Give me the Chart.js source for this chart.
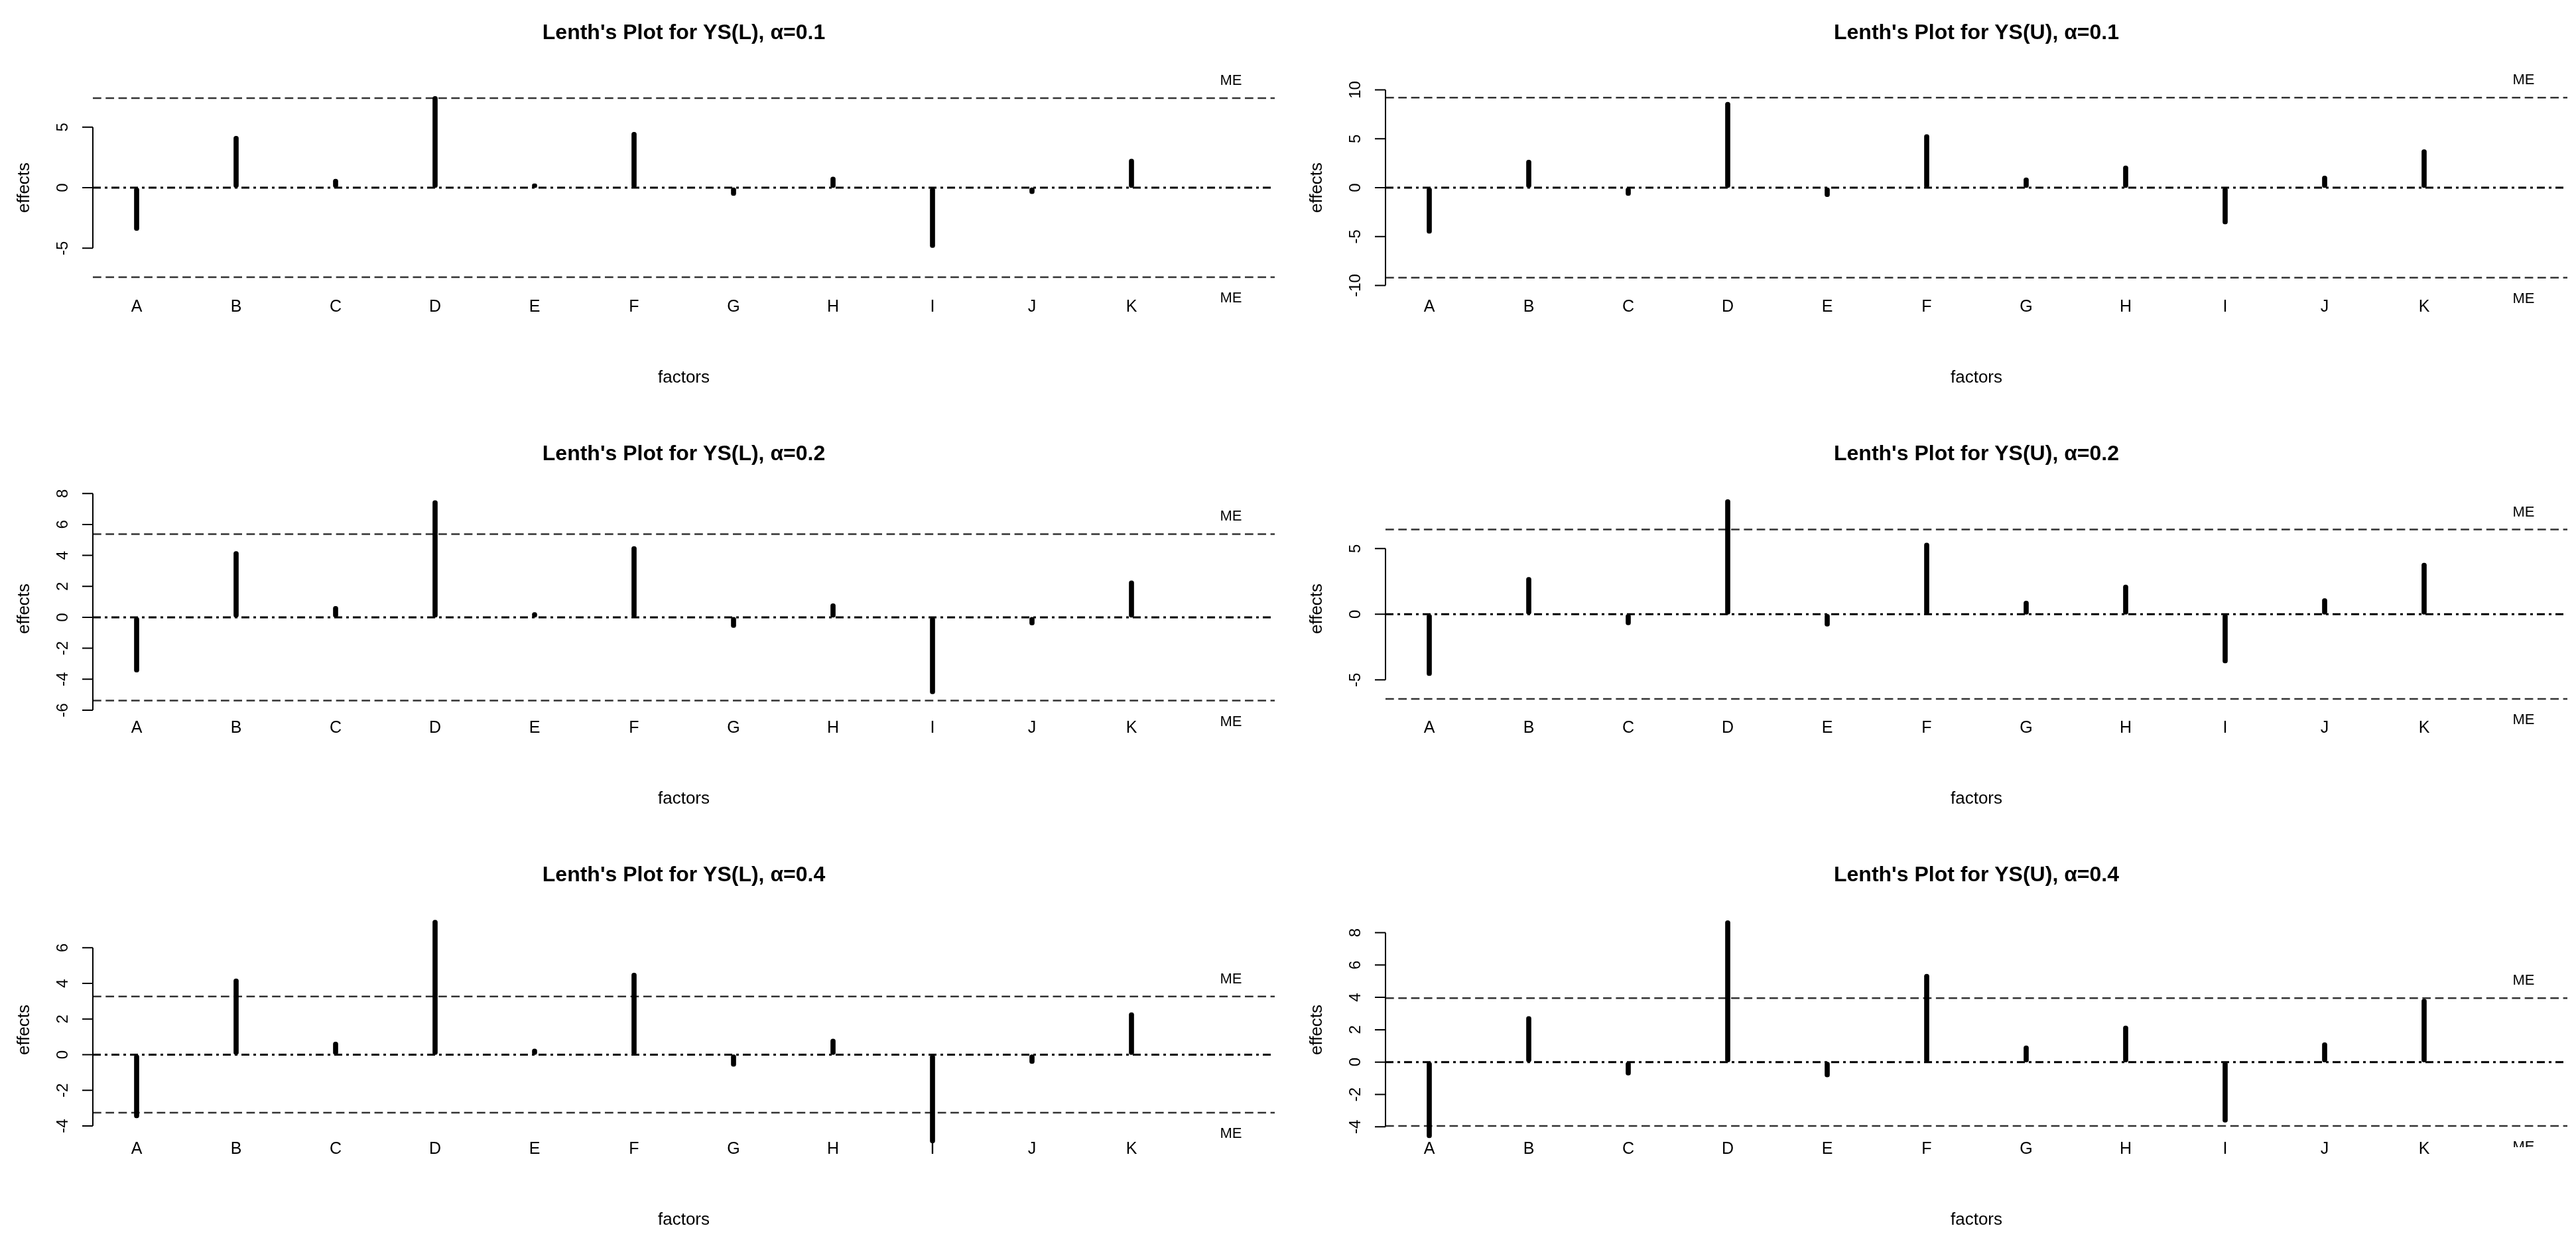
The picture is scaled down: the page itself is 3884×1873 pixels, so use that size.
<!DOCTYPE html>
<html>
<head>
<meta charset="utf-8">
<title>Lenth's Plots</title>
<script src="https://cdn.jsdelivr.net/npm/chart.js@4.4.1/dist/chart.umd.min.js"></script>
<style>
    html, body { margin: 0; padding: 0; background: #fff; overflow: hidden; }
    #wrap { position: relative; width: 3884px; height: 1873px; }
    #wrap canvas { position: absolute; }
</style>
</head>
<body>
<div id="wrap"></div>
<script>
"use strict";

// factors and effects (same effects in every alpha panel)
const factors = ['A', 'B', 'C', 'D', 'E', 'F', 'G', 'H', 'I', 'J', 'K'];
const effectsL = [-3.55, 4.26, 0.71, 7.55, 0.32, 4.58, -0.66, 0.88, -4.95, -0.50, 2.36];
const effectsU = [-4.68, 2.82, -0.81, 8.74, -0.92, 5.43, 1.01, 2.24, -3.72, 1.20, 3.90];

// one entry per row
const alphas = ['0.1', '0.2', '0.4'];
const meL = [7.40, 5.38, 3.26];
const meU = [9.20, 6.45, 3.95];

// y axis range and ticks
const yMinL = [-9.7, -7.03, -5.19];
const yMaxL = [9.7, 8.14, 7.98];
const yMinU = [-12.0, -8.52, -5.26];
const yMaxU = [12.0, 9.36, 9.25];
const ticksL = [[-5, 0, 5], [-6, -4, -2, 0, 2, 4, 6, 8], [-4, -2, 0, 2, 4, 6]];
const ticksU = [[-10, -5, 0, 5, 10], [-5, 0, 5], [-4, -2, 0, 2, 4, 6, 8]];

const X_MIN = 0.56, X_MAX = 12.44, ME_X = 12;
const PANEL_W = 1942, PANEL_H = 635;
const FONT = '"Liberation Sans", Arial, sans-serif';

// R style decorations: axis, labels, titles, ME text
const rStyle = {
    id: 'rStyle',
    afterDraw(chart, args, opts) {
        let ctx = chart.ctx;
        let a = chart.chartArea;
        let x = chart.scales.x;
        let y = chart.scales.y;
        let t = opts.ticks;
        ctx.save();
        ctx.fillStyle = '#000';
        ctx.strokeStyle = '#000';

        // y axis line between first and last tick, ticks outwards
        ctx.lineWidth = 2;
        ctx.beginPath();
        ctx.moveTo(a.left, y.getPixelForValue(t[0]));
        ctx.lineTo(a.left, y.getPixelForValue(t[t.length - 1]));
        t.forEach(v => {
            let py = y.getPixelForValue(v);
            ctx.moveTo(a.left, py);
            ctx.lineTo(a.left - 16, py);
        });
        ctx.stroke();

        // tick labels, parallel to axis
        ctx.font = '24px ' + FONT;
        ctx.textAlign = 'center';
        ctx.textBaseline = 'middle';
        t.forEach(v => {
            ctx.save();
            ctx.translate(a.left - 45, y.getPixelForValue(v));
            ctx.rotate(-Math.PI / 2);
            ctx.fillText(String(v), 0, 0);
            ctx.restore();
        });

        // axis title
        ctx.font = '26px ' + FONT;
        ctx.save();
        ctx.translate(a.left - 103, (a.top + a.bottom) / 2);
        ctx.rotate(-Math.PI / 2);
        ctx.fillText('effects', 0, 0);
        ctx.restore();
        ctx.fillText('factors', (a.left + a.right) / 2, a.bottom + 110);

        // factor names
        ctx.font = '25px ' + FONT;
        factors.forEach((f, i) => {
            ctx.fillText(f, x.getPixelForValue(i + 1), a.bottom + 3);
        });

        // main title
        ctx.font = 'bold 32px ' + FONT;
        ctx.fillText(opts.title, (a.left + a.right) / 2, a.top - 56);

        // ME labels, clipped to plot region like R
        ctx.beginPath();
        ctx.rect(a.left, a.top, a.right - a.left, a.bottom - a.top);
        ctx.clip();
        ctx.font = '22px ' + FONT;
        let mx = x.getPixelForValue(ME_X);
        ctx.fillText('ME', mx, y.getPixelForValue(opts.me) - 26);
        ctx.fillText('ME', mx, y.getPixelForValue(-opts.me) + 32);
        ctx.restore();
    }
};

function hline(value, color, width, dash) {
    return {
        type: 'line',
        data: [{ x: X_MIN, y: value }, { x: X_MAX, y: value }],
        borderColor: color,
        borderWidth: width,
        borderDash: dash,
        pointRadius: 0,
        order: 1
    };
}

function makePanel(col, row) {
    let isL = col === 0;
    let effects = isL ? effectsL : effectsU;
    let me = isL ? meL[row] : meU[row];
    let name = isL ? 'YS(L)' : 'YS(U)';

    let canvas = document.createElement('canvas');
    canvas.width = PANEL_W;
    canvas.height = PANEL_H;
    canvas.style.left = (col * PANEL_W) + 'px';
    canvas.style.top = (row * PANEL_H) + 'px';
    document.getElementById('wrap').appendChild(canvas);

    new Chart(canvas, {
        type: 'bar',
        data: {
            datasets: [
                {
                    type: 'bar',
                    data: effects.map((v, i) => ({ x: i + 1, y: v })),
                    backgroundColor: '#000',
                    barThickness: 7,
                    borderRadius: 3.5,
                    borderSkipped: false,
                    order: 0
                },
                hline(me, '#333', 2.5, [12.7, 6.6]),
                hline(-me, '#333', 2.5, [12.7, 6.6]),
                hline(0, '#000', 3, [12, 6, 4, 6])
            ]
        },
        options: {
            responsive: false,
            animation: false,
            devicePixelRatio: 1,
            layout: {
                padding: { top: 106, bottom: 175, left: isL ? 140 : 147, right: isL ? 20 : 13 }
            },
            scales: {
                x: { type: 'linear', min: X_MIN, max: X_MAX, offset: false, display: false },
                y: {
                    min: isL ? yMinL[row] : yMinU[row],
                    max: isL ? yMaxL[row] : yMaxU[row],
                    display: false
                }
            },
            plugins: {
                legend: { display: false },
                tooltip: { enabled: false },
                rStyle: {
                    ticks: isL ? ticksL[row] : ticksU[row],
                    me: me,
                    title: "Lenth's Plot for " + name + ', \u03b1=' + alphas[row]
                }
            }
        },
        plugins: [rStyle]
    });
}

for (let row = 0; row < 3; row++) {
    makePanel(0, row);
    makePanel(1, row);
}
</script>
</body>
</html>
